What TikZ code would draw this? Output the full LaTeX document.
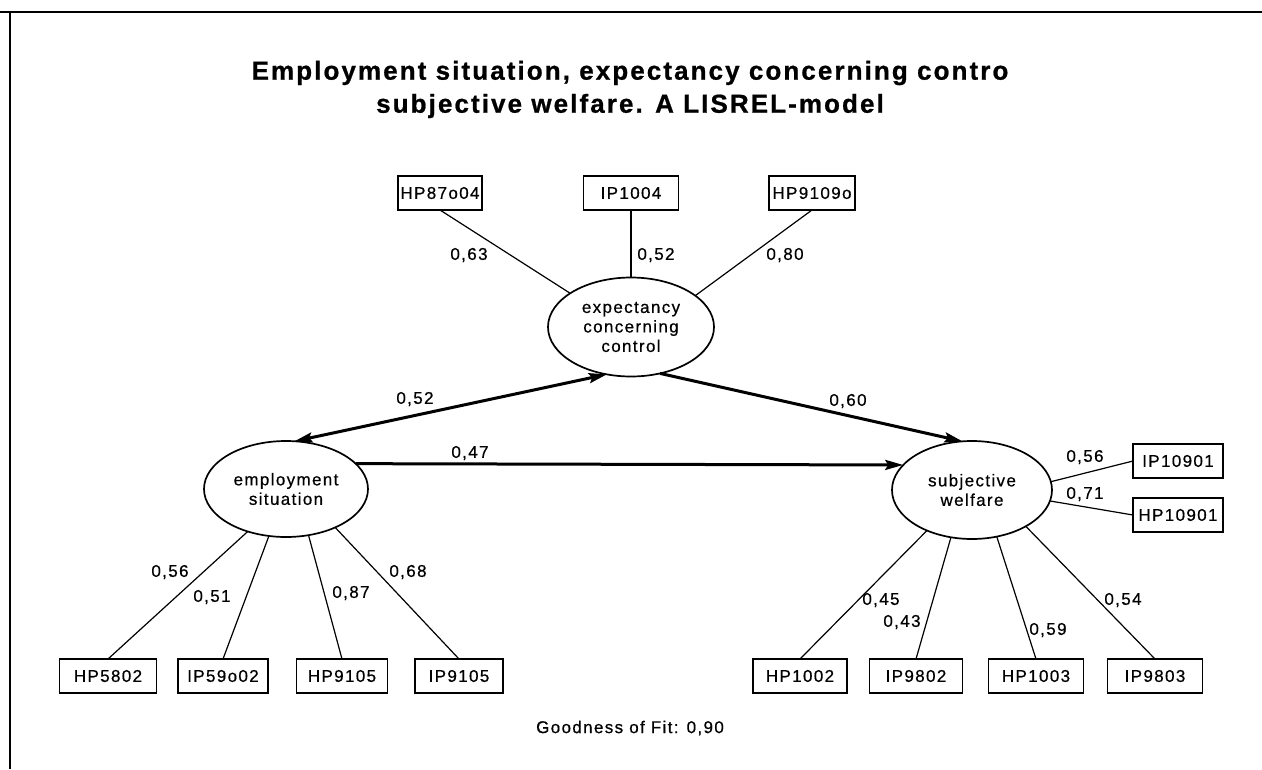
\documentclass[tikz,border=0pt]{standalone}
\usepackage{fontspec}
\setmainfont{Liberation Sans}
\newfontfamily\lblfont[LetterSpace=8,FakeBold=0.6]{Liberation Sans}
\newfontfamily\ttlfont[LetterSpace=8,FakeBold=0.8]{Liberation Sans}
\usetikzlibrary{arrows.meta,shapes.geometric}
\begin{document}
\begin{tikzpicture}[x=1pt,y=-1pt,
  every node/.style={inner sep=0pt,outer sep=0pt},
  obs/.style={draw,line width=1.8pt,minimum height=34pt,font=\lblfont\fontsize{17}{17}\selectfont},
  lat/.style={draw,ellipse,line width=1.7pt,align=center,font=\lblfont\fontsize{17}{19.5}\selectfont},
  lab/.style={font=\lblfont\fontsize{17}{17}\selectfont},
  ttl/.style={font=\ttlfont\bfseries\fontsize{26}{26}\selectfont},
  load/.style={line width=1.2pt},
  causal/.style={line width=3pt,-{Stealth[length=18pt,width=10pt,inset=3pt]}},
  corr/.style={line width=3pt,{Stealth[length=18pt,width=10pt,inset=3pt]}-{Stealth[length=18pt,width=10pt,inset=3pt]}}
]
\useasboundingbox (0,0) rectangle (1262,769);
% frame
\coordinate (ftl) at (10,12);
\coordinate (fl) at (0,12);
\coordinate (fr) at (1262,12);
\coordinate (fb) at (10,769);
\draw[line width=2.5pt] (fl) -- (fr);
\draw[line width=2pt] (ftl) -- (fb);

% title
\node[ttl] (t1) at (630,73) {Employment situation, expectancy concerning contro};
\node[ttl] (t2) at (630,106) {subjective welfare. A LISREL-model};

% top indicators
\node[obs,minimum width=84pt] (hp87) at (440,193) {HP87o04};
\node[obs,minimum width=95pt] (ip1004) at (631,193) {IP1004};
\node[obs,minimum width=86pt] (hp9109) at (812,193) {HP9109o};

% latent variables
\node[lat,minimum width=166pt,minimum height=99pt] (ec) at (631,327) {expectancy\\concerning\\control};
\node[lat,minimum width=164pt,minimum height=96pt] (es) at (286,489) {employment\\situation};
\node[lat,minimum width=160pt,minimum height=98pt] (sw) at (972,490) {subjective\\welfare};

% right indicators
\node[obs,minimum width=90pt] (ip10901) at (1178,461) {IP10901};
\node[obs,minimum width=90pt] (hp10901) at (1178,515) {HP10901};

% bottom indicators
\node[obs,minimum width=97pt] (hp5802) at (108,676) {HP5802};
\node[obs,minimum width=90pt] (ip59) at (223,676) {IP59o02};
\node[obs,minimum width=91pt] (hp9105) at (342,676) {HP9105};
\node[obs,minimum width=88pt] (ip9105) at (459,676) {IP9105};
\node[obs,minimum width=94pt] (hp1002) at (800,676) {HP1002};
\node[obs,minimum width=93pt] (ip9802) at (916,676) {IP9802};
\node[obs,minimum width=95pt] (hp1003) at (1036,676) {HP1003};
\node[obs,minimum width=95pt] (ip9803) at (1155,676) {IP9803};

% loadings lines
\draw[load] (hp87.south) -- (ec.151);
\draw[load] (ip1004.south) -- (ec.north);
\draw[load] (hp9109.south) -- (ec.26);
\draw[load] (hp5802.north) -- (es.228);
\draw[load] (ip59.north) -- (es.250);
\draw[load] (hp9105.north) -- (es.296);
\draw[load] (ip9105.north) -- (es.322);
\draw[load] (hp1002.north) -- (sw.222);
\draw[load] (ip9802.north) -- (sw.246);
\draw[load] (hp1003.north) -- (sw.298);
\draw[load] (ip9803.north) -- (sw.326);
\draw[load] (sw.6) -- (ip10901.west);
\draw[load] (sw.352) -- (hp10901.west);

% structural paths
\draw[corr] (es.80) -- (ec.243);
\draw[causal] (ec.302) -- (sw.101);
\draw[causal] (es.20) -- (sw.160);

% labels
\node[lab] (l63) at (469,255) {0,63};
\node[lab] (l52t) at (656,255) {0,52};
\node[lab] (l80) at (785,255) {0,80};
\node[lab] (l52) at (415,399) {0,52};
\node[lab] (l60) at (848,401) {0,60};
\node[lab] (l47) at (470,453) {0,47};
\node[lab] (l56r) at (1085,457) {0,56};
\node[lab] (l71) at (1085,494) {0,71};
\node[lab] (l56) at (170,572) {0,56};
\node[lab] (l51) at (212,597) {0,51};
\node[lab] (l87) at (351,593) {0,87};
\node[lab] (l68) at (408,572) {0,68};
\node[lab] (l45) at (881,600) {0,45};
\node[lab] (l43) at (902,622) {0,43};
\node[lab] (l59) at (1048,630) {0,59};
\node[lab] (l54) at (1123,600) {0,54};

\node[lab] (gof) at (630,728) {Goodness of Fit: 0,90};
\end{tikzpicture}
\end{document}
